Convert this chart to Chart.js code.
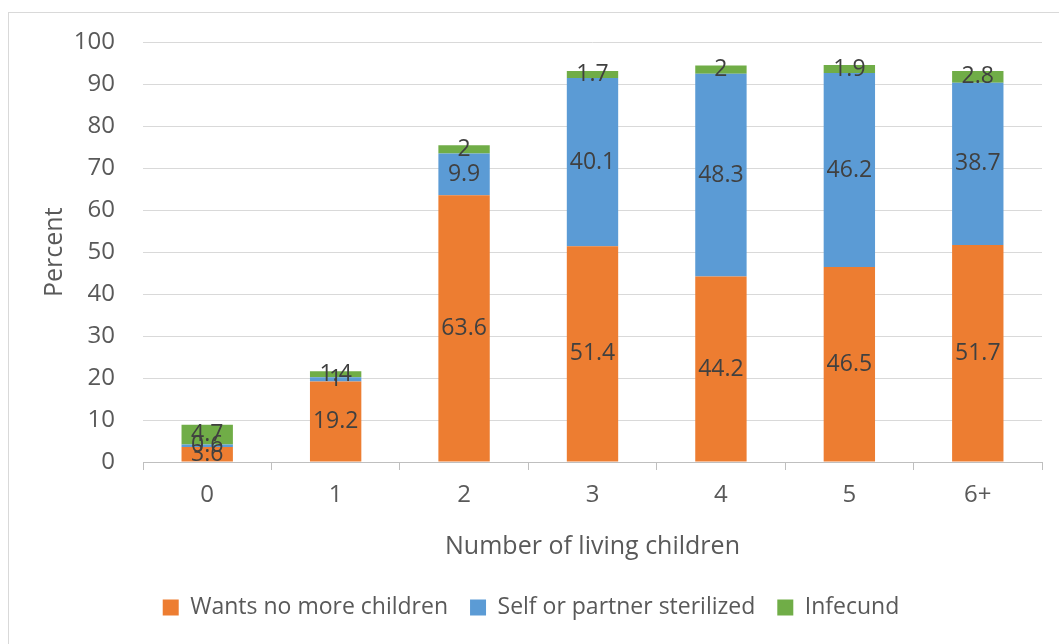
<!DOCTYPE html>
<html>
<head>
<meta charset="utf-8">
<script src="https://cdn.jsdelivr.net/npm/chart.js@4/dist/chart.umd.min.js"></script>
<style>
  html, body { margin: 0; padding: 0; background: #ffffff; }
  #wrap { width: 1059px; height: 644px; position: relative; }
</style>
</head>
<body>
<div id="wrap"><canvas id="chart" width="1059" height="644"></canvas></div>
<script>
// Categories and series (percent)
const categories = ['0', '1', '2', '3', '4', '5', '6+'];
const wantsNoMore = [3.6, 19.2, 63.6, 51.4, 44.2, 46.5, 51.7];
const sterilized = [0.6, 1, 9.9, 40.1, 48.3, 46.2, 38.7];
const infecund = [4.7, 1.4, 2, 1.7, 2, 1.9, 2.8];
const yTicks = [0, 10, 20, 30, 40, 50, 60, 70, 80, 90, 100];

const FONT = '"Open Sans", "Noto Sans", sans-serif';

// light frame around the whole chart
const framePlugin = {
    id: 'frame',
    beforeDraw(chart) {
        const ctx = chart.ctx;
        ctx.save();
        ctx.strokeStyle = '#d9d9d9';
        ctx.lineWidth = 1;
        ctx.strokeRect(8.5, 12.5, 1200, 800);
        ctx.restore();
    }
};

// value labels centred in each segment
const labelPlugin = {
    id: 'segLabels',
    afterDatasetsDraw(chart) {
        const ctx = chart.ctx;
        ctx.save();
        ctx.font = '23px ' + FONT;
        ctx.fillStyle = '#404040';
        ctx.textAlign = 'center';
        ctx.textBaseline = 'middle';
        chart.data.datasets.forEach((ds, i) => {
            chart.getDatasetMeta(i).data.forEach((bar, j) => {
                const y = (bar.y + bar.base) / 2;
                ctx.fillText(String(ds.data[j]), bar.x, y);
            });
        });
        ctx.restore();
    }
};

new Chart(document.getElementById('chart'), {
    type: 'bar',
    data: {
        labels: categories,
        datasets: [
            { label: 'Wants no more children', data: wantsNoMore, backgroundColor: '#ED7D31' },
            { label: 'Self or partner sterilized', data: sterilized, backgroundColor: '#5B9BD5' },
            { label: 'Infecund', data: infecund, backgroundColor: '#70AD47' }
        ]
    },
    options: {
        responsive: false,
        animation: false,
        devicePixelRatio: 1,
        layout: { padding: { left: 20, right: 17, top: 41, bottom: 15 } },
        datasets: { bar: { barPercentage: 0.4, categoryPercentage: 1 } },
        plugins: {
            legend: {
                position: 'bottom',
                labels: {
                    boxWidth: 16,
                    boxHeight: 16,
                    padding: 22,
                    color: '#595959',
                    font: { family: FONT, size: 23 }
                }
            },
            tooltip: { enabled: false }
        },
        scales: {
            x: {
                stacked: true,
                afterFit(scale) { scale.height = 112; },
                grid: { offset: true, drawOnChartArea: false, tickLength: 8, color: '#bfbfbf' },
                border: { color: '#bfbfbf' },
                ticks: { color: '#595959', padding: 11, font: { family: FONT, size: 24 } },
                title: {
                    display: true,
                    text: 'Number of living children',
                    color: '#595959',
                    font: { family: FONT, size: 25 },
                    padding: { top: 0, bottom: 12 }
                }
            },
            y: {
                stacked: true,
                min: 0,
                max: 100,
                afterFit(scale) { scale.width = 123; },
                afterBuildTicks(scale) { scale.ticks = yTicks.map(v => ({ value: v })); },
                grid: { color: '#d9d9d9', drawTicks: false },
                border: { display: false },
                ticks: { color: '#595959', padding: 28, font: { family: FONT, size: 24 } },
                title: {
                    display: true,
                    text: 'Percent',
                    color: '#595959',
                    font: { family: FONT, size: 25 },
                    padding: { top: 20, bottom: 0 }
                }
            }
        }
    },
    plugins: [framePlugin, labelPlugin]
});
</script>
</body>
</html>
